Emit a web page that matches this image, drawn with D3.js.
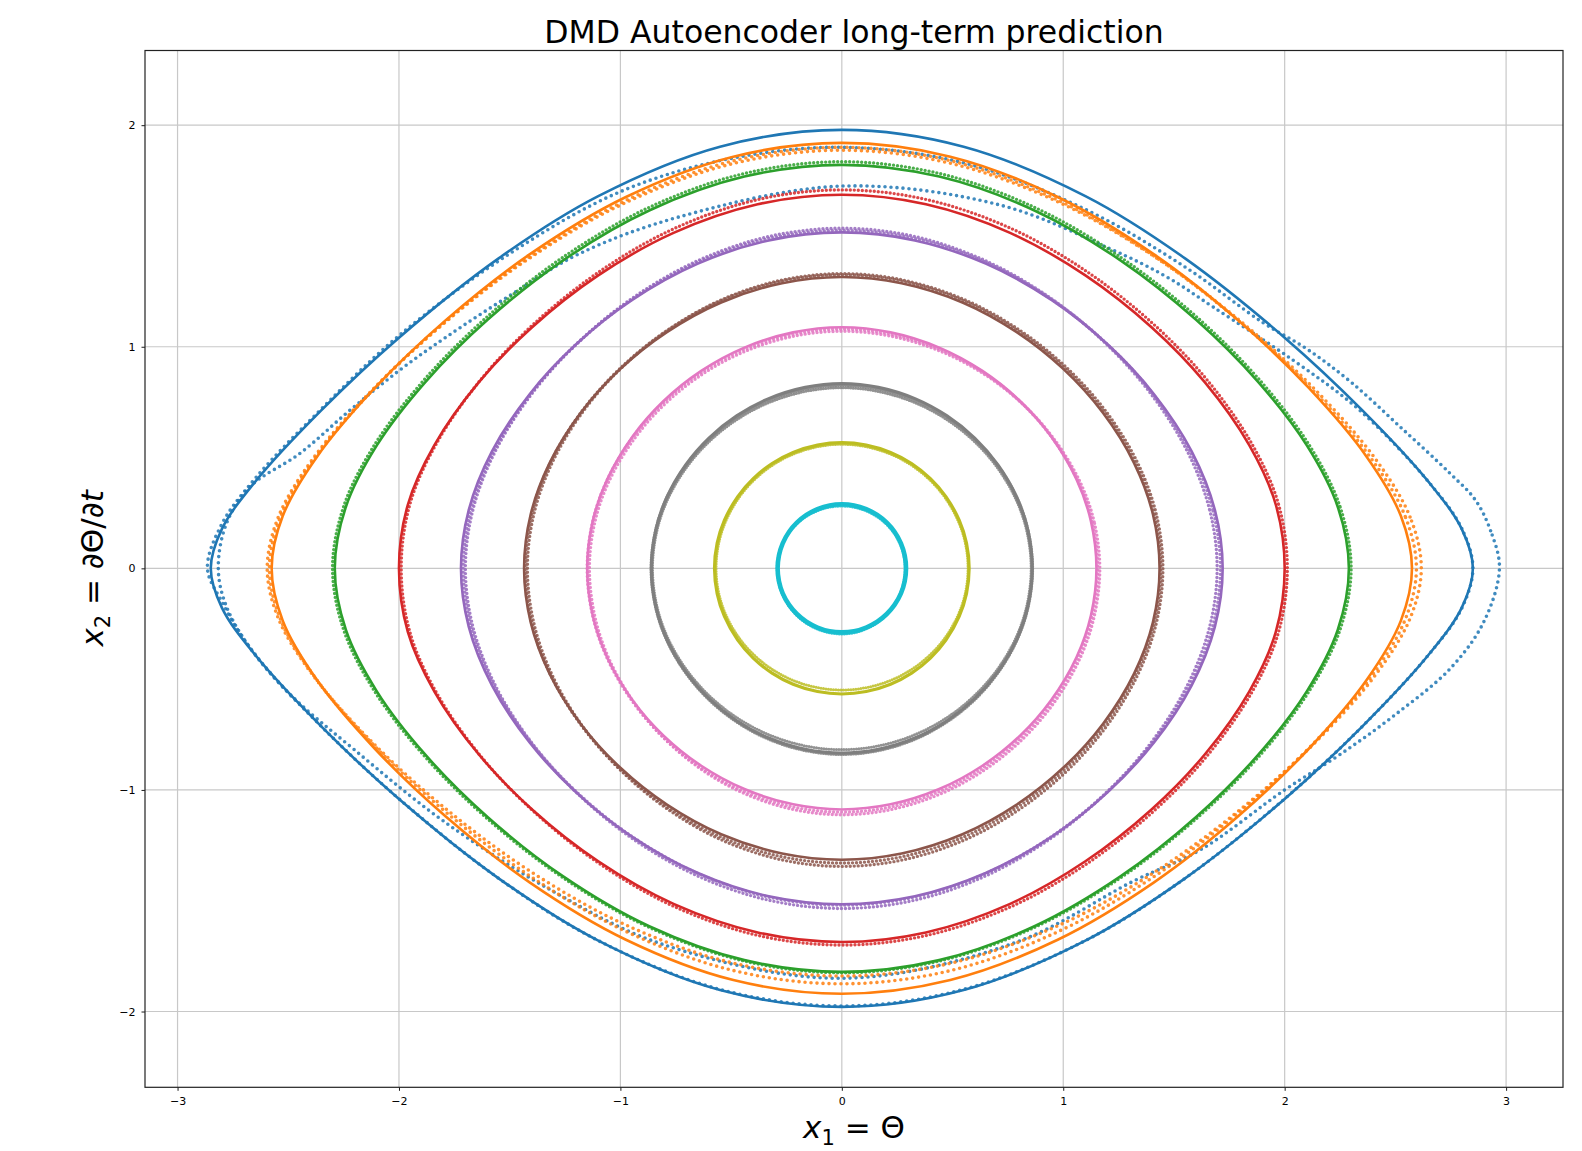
<!DOCTYPE html>
<html>
<head>
<meta charset="utf-8">
<script src="https://cdn.jsdelivr.net/npm/d3@7"></script>
<style>
  body { margin: 0; background: #fff; }
  svg { display: block; font-family: 'DejaVu Sans', sans-serif; }
</style>
</head>
<body>
<svg id="chart"></svg>
<script>
const width = 1582
const height = 1151

const orbitColors = ['#1f77b4', '#ff7f0e', '#2ca02c', '#d62728', '#9467bd',
  '#8c564b', '#e377c2', '#7f7f7f', '#bcbd22', '#17becf']

// one quarter of each closed orbit (theta >= 0, omega >= 0), from the tip to the top
const orbitTheta = [
  [2.85, 2.8, 2.65, 2.35, 2.0, 1.55, 1.1, 0.55, 0],
  [2.575, 2.525, 2.37, 2.11, 1.79, 1.41, 0.975, 0.49, 0],
  [2.29, 2.24, 2.1, 1.88, 1.6, 1.26, 0.87, 0.44, 0],
  [2.0, 1.96, 1.84, 1.64, 1.4, 1.1, 0.76, 0.38, 0],
  [1.72, 1.685, 1.58, 1.41, 1.2, 0.95, 0.65, 0.33, 0],
  [1.435, 1.405, 1.32, 1.18, 1.0, 0.79, 0.545, 0.27, 0],
  [1.15, 1.125, 1.06, 0.945, 0.805, 0.635, 0.44, 0.22, 0],
  [0.86, 0.84, 0.79, 0.705, 0.6, 0.475, 0.33, 0.165, 0],
  [0.575, 0.563, 0.53, 0.47, 0.4, 0.315, 0.22, 0.11, 0],
  [0.29, 0.284, 0.267, 0.238, 0.203, 0.16, 0.11, 0.055, 0]
]
const orbitOmega = [
  [0, 0.177, 0.390, 0.714, 1.041, 1.399, 1.680, 1.903, 1.979],
  [0, 0.236, 0.504, 0.813, 1.119, 1.417, 1.676, 1.858, 1.920],
  [0, 0.277, 0.555, 0.842, 1.122, 1.389, 1.615, 1.768, 1.821],
  [0, 0.287, 0.556, 0.839, 1.087, 1.322, 1.514, 1.643, 1.686],
  [0, 0.263, 0.528, 0.786, 1.011, 1.209, 1.375, 1.480, 1.516],
  [0, 0.244, 0.475, 0.701, 0.900, 1.066, 1.200, 1.287, 1.315],
  [0, 0.213, 0.401, 0.595, 0.755, 0.891, 0.996, 1.065, 1.088],
  [0, 0.173, 0.321, 0.467, 0.588, 0.688, 0.766, 0.817, 0.834],
  [0, 0.114, 0.217, 0.324, 0.405, 0.473, 0.523, 0.556, 0.567],
  [0, 0.058, 0.113, 0.165, 0.206, 0.241, 0.267, 0.284, 0.289]
]

// drifted prediction loops: which orbit, and where they cross the axes
const driftOrbit = [1, 1, 2, 3, 4, 4, 5, 5, 6, 6, 7, 7, 8, 9]
const driftRight = [2.617, 2.595, 2.30, 2.012, 1.695, 1.71, 1.45, 1.44, 1.165, 1.155, 0.855, 0.862, 0.57, 0.286]
const driftTop = [1.887, 1.90, 1.835, 1.708, 1.535, 1.525, 1.33, 1.325, 1.07, 1.08, 0.815, 0.825, 0.56, 0.281]
const driftLeft = [-2.595, -2.585, -2.30, -1.99, -1.70, -1.71, -1.42, -1.43, -1.14, -1.15, -0.855, -0.862, -0.568, -0.292]
const driftBottom = [-1.84, -1.875, -1.825, -1.70, -1.535, -1.52, -1.345, -1.33, -1.112, -1.10, -0.818, -0.84, -0.549, -0.296]

// the outer orbit's prediction wanders more, read point by point
const blueDriftOuter = [
  [2.97, 0], [2.93, 0.17], [2.86, 0.31], [2.745, 0.43], [2.52, 0.64], [2.3, 0.84],
  [2.1, 0.99], [1.9, 1.11], [1.55, 1.36], [1.1, 1.62], [0.55, 1.83], [0, 1.9],
  [-0.5, 1.85], [-1.0, 1.70], [-1.5, 1.42], [-2.0, 1.05], [-2.35, 0.72], [-2.65, 0.405],
  [-2.8, 0.2], [-2.865, 0], [-2.8, -0.15], [-2.7, -0.32], [-2.5, -0.56], [-2.2, -0.82],
  [-1.8, -1.14], [-1.3, -1.46], [-0.8, -1.70], [0, -1.85], [0.78, -1.69], [1.32, -1.41],
  [1.62, -1.27], [2.0, -1.0], [2.25, -0.84], [2.5, -0.66], [2.75, -0.45], [2.9, -0.24]
]
const blueDriftInner = [
  [2.85, 0], [2.8, 0.18], [2.65, 0.39], [2.338, 0.714], [2.037, 0.94], [1.676, 1.18],
  [1.466, 1.316], [1.21, 1.443], [0.713, 1.64], [0, 1.725], [-0.731, 1.587],
  [-1.183, 1.421], [-1.484, 1.241], [-1.785, 1.045], [-1.996, 0.895], [-2.221, 0.714],
  [-2.447, 0.519], [-2.673, 0.368], [-2.78, 0.2], [-2.816, 0], [-2.78, -0.17],
  [-2.65, -0.39], [-2.35, -0.714], [-2.0, -1.04], [-1.55, -1.399], [-1.1, -1.68],
  [-0.55, -1.90], [0, -1.975], [0.55, -1.90], [1.1, -1.68], [1.55, -1.399],
  [2.0, -1.04], [2.35, -0.714], [2.65, -0.39], [2.8, -0.18]
]

const xTicks = [-3, -2, -1, 0, 1, 2, 3]
const yTicks = [-2, -1, 0, 1, 2]

const margin = { top: 50.5, right: 19, bottom: 63.7, left: 145 }

const svg = d3.select('#chart')
  .attr('width', width)
  .attr('height', height)

const x = d3.scaleLinear()
  .domain([-3.147, 3.257])
  .range([margin.left, width - margin.right])

const y = d3.scaleLinear()
  .domain([-2.342, 2.337])
  .range([height - margin.bottom, margin.top])

const fmt = d => d < 0 ? '\u2212' + Math.abs(d) : String(d)

// grid
svg.append('g')
  .selectAll('line')
  .data(xTicks)
  .enter().append('line')
  .attr('x1', d => x(d)).attr('x2', d => x(d))
  .attr('y1', margin.top).attr('y2', height - margin.bottom)
  .attr('stroke', '#c8c8c8').attr('stroke-width', 1.2)

svg.append('g')
  .selectAll('line')
  .data(yTicks)
  .enter().append('line')
  .attr('x1', margin.left).attr('x2', width - margin.right)
  .attr('y1', d => y(d)).attr('y2', d => y(d))
  .attr('stroke', '#c8c8c8').attr('stroke-width', 1.2)

svg.append('clipPath').attr('id', 'plot-clip')
  .append('rect')
  .attr('x', margin.left).attr('y', margin.top)
  .attr('width', width - margin.left - margin.right)
  .attr('height', height - margin.top - margin.bottom)

const plot = svg.append('g').attr('clip-path', 'url(#plot-clip)')

const line = d3.line()
  .x(d => x(d[0]))
  .y(d => y(d[1]))
  .curve(d3.curveCatmullRomClosed.alpha(0.5))

// build a closed loop from an orbit quarter, stretched to the given axis crossings
const buildLoop = (k, right, top, left, bottom) => {
  const qx = orbitTheta[k]
  const qy = orbitOmega[k]
  const n = qx.length
  const a = qx[0]
  const w = qy[n - 1]
  const pts = []
  for (let i = 0; i < n; i++) pts.push([qx[i] * right / a, qy[i] * top / w])
  for (let i = n - 2; i >= 0; i--) pts.push([qx[i] * left / a, qy[i] * top / w])
  for (let i = 1; i < n; i++) pts.push([qx[i] * left / a, qy[i] * bottom / w])
  for (let i = n - 2; i >= 1; i--) pts.push([qx[i] * right / a, qy[i] * bottom / w])
  return pts
}

const dotStyle = k => k <= 1 ? { w: 3.6, dash: '0 6' }
  : k <= 6 ? { w: 3.4, dash: '0 4' }
  : { w: 3, dash: '0 2.5' }

const solidWidth = k => k <= 6 ? 2.6 : k <= 8 ? 3.2 : 4.6

const drawDots = (pts, k) => {
  const s = dotStyle(k)
  plot.append('path')
    .attr('d', line(pts))
    .attr('fill', 'none')
    .attr('stroke', orbitColors[k])
    .attr('stroke-width', s.w)
    .attr('stroke-linecap', 'round')
    .attr('stroke-dasharray', s.dash)
    .attr('opacity', 0.85)
}

orbitTheta.forEach((qx, k) => {
  const a = qx[0]
  const w = orbitOmega[k][qx.length - 1]
  plot.append('path')
    .attr('d', line(buildLoop(k, a, w, -a, -w)))
    .attr('fill', 'none')
    .attr('stroke', orbitColors[k])
    .attr('stroke-width', solidWidth(k))

  if (k === 0) {
    drawDots(blueDriftOuter, 0)
    drawDots(blueDriftInner, 0)
  }
  driftOrbit.forEach((o, j) => {
    if (o !== k) return
    drawDots(buildLoop(k, driftRight[j], driftTop[j], driftLeft[j], driftBottom[j]), k)
  })
})

// axes
const xAxis = svg.append('g')
  .attr('transform', `translate(0,${height - margin.bottom})`)
  .call(d3.axisBottom(x).tickValues(xTicks).tickFormat(fmt).tickSize(3.5).tickPadding(6).tickSizeOuter(0))
const yAxis = svg.append('g')
  .attr('transform', `translate(${margin.left},0)`)
  .call(d3.axisLeft(y).tickValues(yTicks).tickFormat(fmt).tickSize(3.5).tickPadding(6).tickSizeOuter(0))

;[xAxis, yAxis].forEach(ax => {
  ax.select('.domain').remove()
  ax.selectAll('text').attr('font-size', 11).attr('font-family', 'DejaVu Sans').attr('fill', '#000')
  ax.selectAll('line').attr('stroke', '#000').attr('stroke-width', 0.9)
})

// frame
svg.append('rect')
  .attr('x', margin.left).attr('y', margin.top)
  .attr('width', width - margin.left - margin.right)
  .attr('height', height - margin.top - margin.bottom)
  .attr('fill', 'none')
  .attr('stroke', '#222')
  .attr('stroke-width', 1.2)

const cx = (margin.left + width - margin.right) / 2

svg.append('text')
  .attr('x', cx).attr('y', 43)
  .attr('text-anchor', 'middle')
  .attr('font-size', 31.5)
  .attr('fill', '#000')
  .text('DMD Autoencoder long-term prediction')

// x label: x1 = Θ
const xl = svg.append('text')
  .attr('x', cx).attr('y', 1138)
  .attr('text-anchor', 'middle')
  .attr('font-size', 31)
  .attr('fill', '#000')
xl.append('tspan').attr('font-style', 'italic').text('x')
xl.append('tspan').attr('font-size', 21).attr('dy', 7).text('1')
xl.append('tspan').attr('dy', -7).text(' = \u0398')

// y label: x2 = ∂Θ/∂t
const yl = svg.append('text')
  .attr('transform', `translate(103,${y(0)}) rotate(-90)`)
  .attr('text-anchor', 'middle')
  .attr('font-size', 31)
  .attr('fill', '#000')
yl.append('tspan').attr('font-style', 'italic').text('x')
yl.append('tspan').attr('font-size', 21).attr('dy', 7).text('2')
yl.append('tspan').attr('dy', -7).text(' = ')
yl.append('tspan').attr('font-style', 'italic').text('\u2202')
yl.append('tspan').text('\u0398/')
yl.append('tspan').attr('font-style', 'italic').text('\u2202t')
</script>
</body>
</html>
